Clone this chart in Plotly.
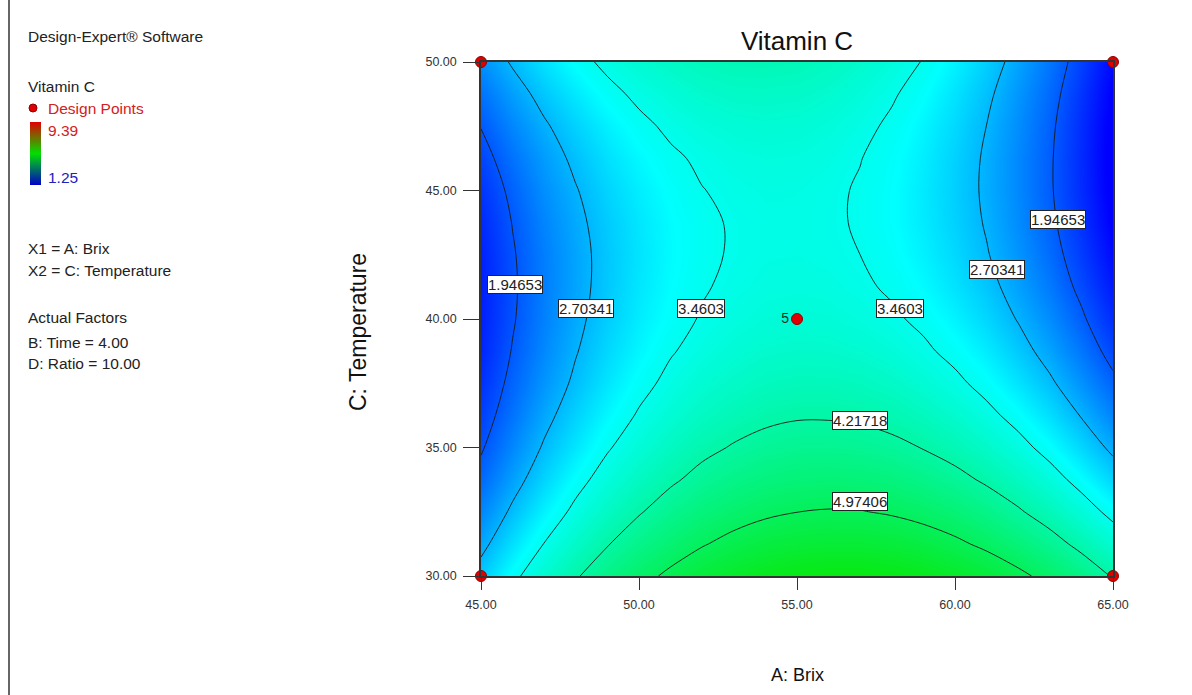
import plotly.graph_objects as go

# Response grid: Vitamin C over Brix (A) x Temperature (C), Time = 4.00, Ratio = 10.00
brix = [45, 46, 47, 48, 49, 50, 51, 52, 53, 54, 55, 56, 57, 58, 59, 60, 61, 62, 63, 64, 65]
temperature = [30, 31.25, 32.5, 33.75, 35, 36.25, 37.5, 38.75, 40,
               41.25, 42.5, 43.75, 45, 46.25, 47.5, 48.75, 50]
vitamin_c = [
    [2.88, 3.35, 3.78, 4.17, 4.51, 4.82, 5.07, 5.29, 5.46, 5.59, 5.68, 5.72, 5.72, 5.68, 5.60, 5.47, 5.30, 5.08, 4.83, 4.53, 4.18],
    [2.58, 3.05, 3.47, 3.85, 4.19, 4.48, 4.73, 4.94, 5.11, 5.23, 5.31, 5.34, 5.34, 5.29, 5.20, 5.06, 4.88, 4.66, 4.40, 4.09, 3.74],
    [2.32, 2.78, 3.19, 3.56, 3.89, 4.18, 4.43, 4.63, 4.78, 4.90, 4.97, 5.00, 4.99, 4.93, 4.83, 4.69, 4.50, 4.27, 4.00, 3.68, 3.33],
    [2.09, 2.54, 2.95, 3.32, 3.64, 3.92, 4.15, 4.35, 4.50, 4.61, 4.67, 4.69, 4.67, 4.61, 4.50, 4.35, 4.15, 3.92, 3.64, 3.31, 2.95],
    [1.90, 2.34, 2.75, 3.10, 3.42, 3.69, 3.92, 4.11, 4.25, 4.35, 4.41, 4.42, 4.39, 4.32, 4.20, 4.04, 3.84, 3.60, 3.31, 2.98, 2.61],
    [1.75, 2.18, 2.58, 2.93, 3.23, 3.50, 3.72, 3.90, 4.03, 4.13, 4.18, 4.18, 4.15, 4.07, 3.94, 3.78, 3.57, 3.32, 3.02, 2.68, 2.30],
    [1.63, 2.06, 2.44, 2.78, 3.08, 3.34, 3.56, 3.73, 3.85, 3.94, 3.98, 3.98, 3.94, 3.85, 3.72, 3.55, 3.33, 3.07, 2.77, 2.42, 2.04],
    [1.54, 1.97, 2.34, 2.68, 2.97, 3.22, 3.43, 3.59, 3.71, 3.79, 3.82, 3.81, 3.76, 3.67, 3.53, 3.35, 3.13, 2.86, 2.55, 2.20, 1.80],
    [1.50, 1.91, 2.28, 2.61, 2.89, 3.14, 3.33, 3.49, 3.60, 3.67, 3.70, 3.68, 3.62, 3.52, 3.38, 3.19, 2.96, 2.68, 2.37, 2.01, 1.60],
    [1.48, 1.89, 2.25, 2.57, 2.85, 3.09, 3.28, 3.43, 3.53, 3.59, 3.61, 3.59, 3.52, 3.41, 3.26, 3.06, 2.83, 2.54, 2.22, 1.85, 1.44],
    [1.51, 1.91, 2.26, 2.57, 2.84, 3.07, 3.26, 3.40, 3.49, 3.55, 3.56, 3.53, 3.46, 3.34, 3.18, 2.98, 2.73, 2.44, 2.11, 1.73, 1.32],
    [1.57, 1.96, 2.31, 2.61, 2.87, 3.09, 3.27, 3.40, 3.49, 3.54, 3.55, 3.51, 3.43, 3.30, 3.13, 2.92, 2.67, 2.37, 2.03, 1.65, 1.22],
    [1.66, 2.04, 2.39, 2.68, 2.94, 3.15, 3.32, 3.45, 3.53, 3.57, 3.56, 3.52, 3.43, 3.30, 3.12, 2.90, 2.64, 2.34, 1.99, 1.60, 1.17],
    [1.79, 2.17, 2.50, 2.79, 3.04, 3.24, 3.40, 3.52, 3.60, 3.63, 3.62, 3.57, 3.47, 3.33, 3.15, 2.92, 2.65, 2.34, 1.99, 1.59, 1.15],
    [1.96, 2.33, 2.65, 2.93, 3.17, 3.37, 3.53, 3.64, 3.70, 3.73, 3.71, 3.65, 3.55, 3.40, 3.21, 2.98, 2.70, 2.38, 2.02, 1.61, 1.17],
    [2.16, 2.52, 2.84, 3.11, 3.35, 3.54, 3.68, 3.79, 3.85, 3.86, 3.84, 3.77, 3.66, 3.50, 3.31, 3.06, 2.78, 2.45, 2.09, 1.67, 1.22],
    [2.40, 2.75, 3.06, 3.33, 3.55, 3.74, 3.87, 3.97, 4.02, 4.03, 4.00, 3.92, 3.80, 3.64, 3.44, 3.19, 2.90, 2.56, 2.19, 1.77, 1.30],
]

# Contour levels and the observed response range used for the colour scale
contour_levels = [1.94653, 2.70341, 3.4603, 4.21718, 4.97406]
response_min, response_max = 1.25, 9.39

# Design points (replicate count shown next to the centre point)
design_brix = [45, 45, 65, 65, 55]
design_temp = [30, 50, 30, 50, 40]
design_reps = [1, 1, 1, 1, 5]

# Where each contour value is written: (level, Brix, Temperature)
label_spots = [
    (1.94653, 46.08, 41.36),
    (2.70341, 48.32, 40.39),
    (3.4603, 51.96, 40.39),
    (3.4603, 58.26, 40.39),
    (2.70341, 61.33, 41.91),
    (1.94653, 63.26, 43.89),
    (4.21718, 56.99, 36.07),
    (4.97406, 56.99, 32.88),
]

tick_brix = [45, 50, 55, 60, 65]
tick_temp = [30, 35, 40, 45, 50]

W, H = 1192, 695
L, R, T, B = 481, 79, 62, 119
PW, PH = W - L - R, H - T - B

FONT = "Liberation Sans, Arial, sans-serif"


def px(xp):
    return (xp - L) / PW


def py(yp):
    return 1 - (yp - T) / PH


surface_scale = [
    [0.0, "#0000ff"],
    [0.25, "#00ffff"],
    [0.56, "#08e808"],
    [0.78, "#ffff00"],
    [1.0, "#ff0000"],
]
legend_scale = [
    [0.0, "#0000c8"],
    [0.5, "#00e000"],
    [1.0, "#e00000"],
]

fig = go.Figure()

# Filled response surface
fig.add_trace(go.Heatmap(
    x=brix, y=temperature, z=vitamin_c,
    zmin=response_min, zmax=response_max,
    colorscale=surface_scale, zsmooth="best",
    showscale=False, hoverinfo="skip",
))

# Contour lines
fig.add_trace(go.Contour(
    x=brix, y=temperature, z=vitamin_c,
    contours=dict(
        start=contour_levels[0],
        end=contour_levels[-1] + 1e-4,
        size=contour_levels[1] - contour_levels[0],
        coloring="none",
    ),
    line=dict(color="#1a1a1a", width=0.9, smoothing=1.0),
    showscale=False, hoverinfo="skip",
))

# Design points
fig.add_trace(go.Scatter(
    x=design_brix, y=design_temp,
    mode="markers+text",
    text=[str(n) if n > 1 else "" for n in design_reps],
    textposition="middle left",
    textfont=dict(family=FONT, size=14, color="#1f2f1f"),
    marker=dict(
        size=11, color="#e00000", line=dict(color="#8a0000", width=1),
    ),
    cliponaxis=False, hoverinfo="skip",
))

# Hidden copy of two design points that carries the side-panel colour key
fig.add_trace(go.Scatter(
    x=design_brix[:2], y=design_temp[:2], mode="markers",
    marker=dict(
        size=1, opacity=0,
        color=[response_min, response_max],
        cmin=response_min, cmax=response_max,
        colorscale=legend_scale, showscale=True,
        colorbar=dict(
            x=px(30), xanchor="left", y=py(122), yanchor="top",
            thickness=11, thicknessmode="pixels",
            len=63, lenmode="pixels",
            showticklabels=False, ticks="", outlinewidth=0,
            xpad=0, ypad=0,
        ),
    ),
    hoverinfo="skip",
))

annotations = []
for level, a, c in label_spots:
    annotations.append(dict(
        x=a, y=c, xref="x", yref="y",
        text=f"{level:g}", showarrow=False,
        font=dict(family=FONT, size=15, color="#222"),
        bgcolor="white", bordercolor="#222", borderwidth=1, borderpad=0,
    ))

# Side panel text
side = [
    ("Design-Expert® Software", 26, 37, "#222"),
    ("Vitamin C", 26, 86, "#222"),
    ("Design Points", 46, 108, "#d42020"),
    ("9.39", 46, 130, "#d42020"),
    ("1.25", 46, 177, "#2020c0"),
    ("X1 = A: Brix", 26, 248, "#222"),
    ("X2 = C: Temperature", 26, 270, "#222"),
    ("Actual Factors", 26, 317, "#222"),
    ("B: Time = 4.00", 26, 342, "#222"),
    ("D: Ratio = 10.00", 26, 363, "#222"),
]
for text, xp, yp, col in side:
    annotations.append(dict(
        x=px(xp), y=py(yp), xref="paper", yref="paper",
        xanchor="left", yanchor="middle", text=text, showarrow=False,
        font=dict(family=FONT, size=15.5, color=col),
    ))

# Axis titles
annotations.append(dict(
    x=0.5, y=py(675), xref="paper", yref="paper", text="A: Brix",
    showarrow=False, xanchor="center", yanchor="middle",
    font=dict(family=FONT, size=18, color="#111"),
))
annotations.append(dict(
    x=px(358), y=py(332), xref="paper", yref="paper", text="C: Temperature",
    showarrow=False, xanchor="center", yanchor="middle", textangle=-90,
    font=dict(family=FONT, size=23, color="#111"),
))

shapes = [
    # legend marker for design points
    dict(type="circle", xref="paper", yref="paper",
         x0=px(29), x1=px(37), y0=py(112), y1=py(104),
         fillcolor="#e00000", line=dict(color="#8a0000", width=1)),
    # outer frame line on the left
    dict(type="line", xref="paper", yref="paper",
         x0=px(9), x1=px(9), y0=py(0), y1=py(695),
         line=dict(color="#333", width=1.5)),
]

axis_common = dict(
    showgrid=False, zeroline=False, showline=True, mirror=True,
    linecolor="#333", linewidth=1.5, ticks="outside", tickcolor="#333",
    tickformat=".2f", tickfont=dict(family=FONT, size=12.5, color="#333"),
)

fig.update_layout(
    width=W, height=H,
    margin=dict(l=L, r=R, t=T, b=B, autoexpand=False),
    paper_bgcolor="white", plot_bgcolor="white",
    showlegend=False,
    title=dict(text="Vitamin C", x=(L + PW / 2) / W, xanchor="center",
               y=1 - 41 / H, yanchor="middle", yref="container",
               font=dict(family=FONT, size=26, color="#111")),
    xaxis=dict(range=[45, 65], tickvals=tick_brix, ticklen=12,
               ticklabelstandoff=4, **axis_common),
    yaxis=dict(range=[30, 50], tickvals=tick_temp, ticklen=16,
               ticklabelstandoff=4, **axis_common),
    annotations=annotations,
    shapes=shapes,
)

fig.write_html("out.html")
